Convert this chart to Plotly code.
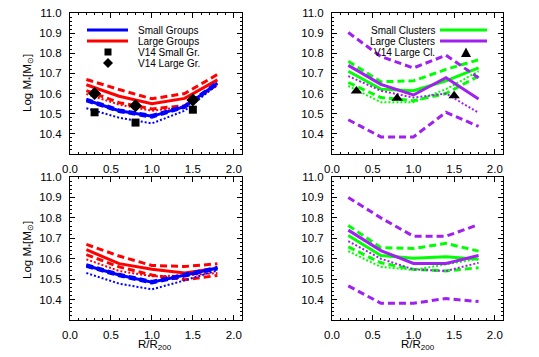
import plotly.graph_objects as go

# ---------------- data ----------------
R = [0.2, 0.6, 1.0, 1.4, 1.8]
V14_R = [0.3, 0.8, 1.5]

# top-left: groups
sg_med_top = [10.568, 10.515, 10.487, 10.535, 10.652]
sg_hi_top = [10.572, 10.519, 10.491, 10.539, 10.656]
sg_lo_top = [10.564, 10.511, 10.483, 10.531, 10.648]
sg_dot_top = [10.527, 10.480, 10.452, 10.515, 10.645]
lg_med_top = [10.644, 10.587, 10.550, 10.576, 10.668]
lg_hi_top = [10.670, 10.620, 10.574, 10.600, 10.695]
lg_lo_top = [10.615, 10.555, 10.524, 10.540, 10.645]
lg_dot_top = [10.598, 10.545, 10.515, 10.535, 10.640]
v14_small_gr = [10.507, 10.456, 10.520]
v14_large_gr = [10.600, 10.540, 10.568]

# bottom-left: groups
sg_med_bot = [10.567, 10.520, 10.485, 10.520, 10.554]
sg_hi_bot = [10.571, 10.524, 10.489, 10.524, 10.558]
sg_lo_bot = [10.563, 10.516, 10.481, 10.516, 10.550]
sg_dot_bot = [10.530, 10.478, 10.450, 10.494, 10.543]
lg_med_bot = [10.644, 10.576, 10.548, 10.530, 10.554]
lg_hi_bot = [10.670, 10.613, 10.567, 10.562, 10.575]
lg_lo_bot = [10.620, 10.560, 10.520, 10.497, 10.518]
lg_dot_bot = [10.597, 10.540, 10.514, 10.518, 10.530]

# top-right: clusters
sc_med_top = [10.711, 10.622, 10.614, 10.663, 10.728]
sc_hi_top = [10.760, 10.659, 10.663, 10.720, 10.768]
sc_lo_top = [10.655, 10.580, 10.565, 10.600, 10.687]
sc_dot_top = [10.638, 10.557, 10.557, 10.622, 10.711]
lc_med_top = [10.740, 10.646, 10.593, 10.679, 10.573]
lc_hi_top = [10.903, 10.784, 10.727, 10.790, 10.678]
lc_lo_top = [10.470, 10.385, 10.385, 10.507, 10.437]
lc_dot_top = [10.687, 10.614, 10.580, 10.600, 10.505]
v14_large_cl = [10.613, 10.577, 10.589]

# bottom-right: clusters
sc_med_bot = [10.714, 10.616, 10.602, 10.610, 10.597]
sc_hi_bot = [10.763, 10.654, 10.650, 10.675, 10.637]
sc_lo_bot = [10.658, 10.580, 10.548, 10.540, 10.556]
sc_dot_bot = [10.637, 10.560, 10.545, 10.572, 10.600]
lc_med_bot = [10.740, 10.640, 10.577, 10.577, 10.616]
lc_hi_bot = [10.900, 10.800, 10.710, 10.710, 10.767]
lc_lo_bot = [10.467, 10.382, 10.382, 10.405, 10.390]
lc_dot_bot = [10.686, 10.600, 10.548, 10.540, 10.580]

X_TICKS = [0.0, 0.5, 1.0, 1.5, 2.0]
Y_TICKS = [10.4, 10.5, 10.6, 10.7, 10.8, 10.9, 11.0]

BLUE = "#0000FF"
RED = "#FF0000"
GREEN = "#00FF00"
PURPLE = "#A020F0"

W, H = 539, 357
FONT = "Liberation Sans, Arial, sans-serif"


def px(x):
    return x / W


def py(y):
    return 1 - y / H


fig = go.Figure()


def line(xa, ya, y, color, kind):
    if kind == "solid":
        ln = dict(color=color, width=3)
    elif kind == "dash":
        ln = dict(color=color, width=3, dash="7px,4px")
    else:
        ln = dict(color=color, width=2, dash="2px,2px")
    fig.add_trace(go.Scatter(x=R, y=y, mode="lines", line=ln, xaxis=xa, yaxis=ya,
                             showlegend=False, hoverinfo="skip"))


# top-left
for y, k in [(lg_dot_top, "dot"), (lg_lo_top, "dash"), (lg_hi_top, "dash"), (lg_med_top, "solid")]:
    line("x", "y", y, RED, k)
for y, k in [(sg_dot_top, "dot"), (sg_lo_top, "dash"), (sg_hi_top, "dash"), (sg_med_top, "solid")]:
    line("x", "y", y, BLUE, k)
fig.add_trace(go.Scatter(x=V14_R, y=v14_small_gr, mode="markers", xaxis="x", yaxis="y",
                         marker=dict(symbol="square", size=8, color="black"),
                         showlegend=False))
fig.add_trace(go.Scatter(x=V14_R, y=v14_large_gr, mode="markers", xaxis="x", yaxis="y",
                         marker=dict(symbol="diamond", size=10, color="black"),
                         showlegend=False))

# bottom-left
for y, k in [(lg_dot_bot, "dot"), (lg_lo_bot, "dash"), (lg_hi_bot, "dash"), (lg_med_bot, "solid")]:
    line("x3", "y3", y, RED, k)
for y, k in [(sg_dot_bot, "dot"), (sg_lo_bot, "dash"), (sg_hi_bot, "dash"), (sg_med_bot, "solid")]:
    line("x3", "y3", y, BLUE, k)

# top-right
for y, k in [(sc_dot_top, "dot"), (sc_lo_top, "dash"), (sc_hi_top, "dash"), (sc_med_top, "solid")]:
    line("x2", "y2", y, GREEN, k)
for y, k in [(lc_dot_top, "dot"), (lc_lo_top, "dash"), (lc_hi_top, "dash"), (lc_med_top, "solid")]:
    line("x2", "y2", y, PURPLE, k)
fig.add_trace(go.Scatter(x=V14_R, y=v14_large_cl, mode="markers", xaxis="x2", yaxis="y2",
                         marker=dict(symbol="triangle-up", size=10, color="black"),
                         showlegend=False))

# bottom-right
for y, k in [(sc_dot_bot, "dot"), (sc_lo_bot, "dash"), (sc_hi_bot, "dash"), (sc_med_bot, "solid")]:
    line("x4", "y4", y, GREEN, k)
for y, k in [(lc_dot_bot, "dot"), (lc_lo_bot, "dash"), (lc_hi_bot, "dash"), (lc_med_bot, "solid")]:
    line("x4", "y4", y, PURPLE, k)

# ---------------- axes ----------------
XL = [px(70), px(242)]
XR = [px(332), px(503)]
YT = [py(154), py(13)]
YB = [py(320), py(177)]


def xax(domain, anchor):
    return dict(domain=domain, anchor=anchor, range=[0, 2.1], tickvals=X_TICKS,
                ticktext=[f"{v:.1f}" for v in X_TICKS], ticks="inside", ticklen=5,
                tickcolor="black", showline=True, linecolor="black", linewidth=1,
                mirror="ticks", showgrid=False, zeroline=False, automargin=False,
                tickfont=dict(family=FONT, size=11.5, color="black"),
                minor=dict(dtick=0.1, tick0=0, ticks="inside", ticklen=2, tickcolor="black"),
                ticklabelstandoff=4)


def yax(domain, anchor):
    return dict(domain=domain, anchor=anchor, range=[10.3, 11.0], tickvals=Y_TICKS,
                ticktext=[f"{v:.1f}" for v in Y_TICKS], ticks="inside", ticklen=5,
                tickcolor="black", showline=True, linecolor="black", linewidth=1,
                mirror="ticks", showgrid=False, zeroline=False, automargin=False,
                tickfont=dict(family=FONT, size=11.5, color="black"),
                minor=dict(dtick=0.02, tick0=10.3, ticks="inside", ticklen=2, tickcolor="black"),
                ticklabelstandoff=5)


layout = dict(
    width=W, height=H, autosize=False,
    margin=dict(l=0, r=0, t=0, b=0, pad=0, autoexpand=False),
    paper_bgcolor="white", plot_bgcolor="white",
    xaxis=xax(XL, "y"), yaxis=yax(YT, "x"),
    xaxis2=xax(XR, "y2"), yaxis2=yax(YT, "x2"),
    xaxis3=xax(XL, "y3"), yaxis3=yax(YB, "x3"),
    xaxis4=xax(XR, "y4"), yaxis4=yax(YB, "x4"),
)
fig.update_layout(**layout)

shapes = []
ann = []

tfont = dict(family=FONT, size=10, color="black")

# top-left legend
shapes.append(dict(type="line", xref="paper", yref="paper", x0=px(87), x1=px(128),
                   y0=py(30), y1=py(30), line=dict(color=BLUE, width=3)))
shapes.append(dict(type="line", xref="paper", yref="paper", x0=px(87), x1=px(128),
                   y0=py(41), y1=py(41), line=dict(color=RED, width=3)))
shapes.append(dict(type="rect", xref="paper", yref="paper", x0=px(104.5), x1=px(111.5),
                   y0=py(55.5), y1=py(48.5), fillcolor="black", line=dict(color="black", width=0)))
shapes.append(dict(type="path", xref="paper", yref="paper",
                   path=f"M {px(108)} {py(58)} L {px(113)} {py(63)} L {px(108)} {py(68)} L {px(103)} {py(63)} Z",
                   fillcolor="black", line=dict(color="black", width=0)))
for label, yy in [("Small Groups", 30), ("Large Groups", 41), ("V14 Small Gr.", 52), ("V14 Large Gr.", 63)]:
    ann.append(dict(text=label, xref="paper", yref="paper", x=px(136), y=py(yy),
                    xanchor="left", yanchor="middle", showarrow=False, font=tfont))

# top-right legend
shapes.append(dict(type="line", xref="paper", yref="paper", x0=px(440), x1=px(487),
                   y0=py(30), y1=py(30), line=dict(color=GREEN, width=3)))
shapes.append(dict(type="line", xref="paper", yref="paper", x0=px(440), x1=px(487),
                   y0=py(41), y1=py(41), line=dict(color=PURPLE, width=3)))
shapes.append(dict(type="path", xref="paper", yref="paper",
                   path=f"M {px(466)} {py(47.5)} L {px(471)} {py(57)} L {px(461)} {py(57)} Z",
                   fillcolor="black", line=dict(color="black", width=0)))
for label, yy in [("Small Clusters", 30), ("Large Clusters", 41), ("V14 Large Cl.", 52)]:
    ann.append(dict(text=label, xref="paper", yref="paper", x=px(437), y=py(yy),
                    xanchor="right", yanchor="middle", showarrow=False, font=tfont))

# axis titles
afont = dict(family=FONT, size=11.5, color="black")
for yy in [83, 250]:
    ann.append(dict(text="Log M<sub>*</sub>[M<sub>⊙</sub>]", xref="paper", yref="paper",
                    x=px(28), y=py(yy), textangle=-90, xanchor="center", yanchor="middle",
                    showarrow=False, font=afont))
for xx in [155, 418]:
    ann.append(dict(text="R/R<sub>200</sub>", xref="paper", yref="paper",
                    x=px(xx), y=py(345), xanchor="center", yanchor="middle",
                    showarrow=False, font=afont))

fig.update_layout(shapes=shapes, annotations=ann)
fig.write_html("out.html", config={"displayModeBar": False},
               post_script="document.body.style.margin='0';")
